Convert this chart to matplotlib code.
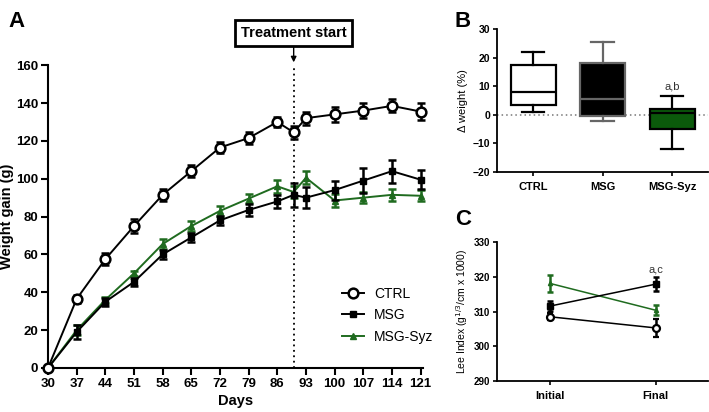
import matplotlib
matplotlib.use("Agg")
import matplotlib.pyplot as plt
from matplotlib.lines import Line2D

plt.rcParams['font.family'] = ['Liberation Sans', 'DejaVu Sans']

GREEN = '#1f6b1f'

# ---- panel A data ----
days = [30, 37, 44, 51, 58, 65, 72, 79, 86, 90, 93, 100, 107, 114, 121]
ctrl = [0, 36.5, 57.5, 75, 91.5, 104, 116.5, 121.5, 130, 124.5, 132, 134, 136, 138.5, 135.5]
ctrl_err = [0, 2, 3, 3.5, 3, 3, 3, 3, 2.5, 3.5, 3.5, 4, 4, 3.5, 4.5]
msg = [0, 19, 35, 45.5, 60, 69, 78, 83.5, 88, 91.5, 90, 94, 99, 104, 99.5]
msg_err = [0, 3.5, 2, 2, 2.5, 2.5, 2.5, 3, 3.5, 6.5, 5.5, 5, 6.5, 6, 5]
syz = [0, 20, 36, 50, 65.5, 75, 83, 89.5, 96, 93, 100.5, 88.5, 90, 91.5, 91]
syz_err = [0, 2.5, 1.5, 1.5, 2.5, 2.5, 2.5, 2.5, 3.5, 3, 3.5, 3.5, 3, 3, 3]
day_ticks = [30, 37, 44, 51, 58, 65, 72, 79, 86, 93, 100, 107, 114, 121]
treat_day = 90

# ---- panel B data (box stats) ----
groups = ['CTRL', 'MSG', 'MSG-Syz']
whislo = [1, -2, -12]
q1 = [3.5, -0.5, -5]
med = [8, 5.5, 0.5]
q3 = [17.5, 18, 2]
whishi = [22, 25.5, 6.5]

# ---- panel C data ----
times = ['Initial', 'Final']
lee_ctrl = [308.5, 305.3]
lee_ctrl_err = [1.0, 2.5]
lee_msg = [311.6, 317.9]
lee_msg_err = [1.5, 2.0]
lee_syz = [318.1, 310.4]
lee_syz_err = [2.5, 1.5]

fig = plt.figure(figsize=(7.09, 4.12), dpi=100)

# ================= A =================
axA = fig.add_axes([0.0677, 0.1068, 0.529, 0.735])
ekw = dict(capsize=3, capthick=1.8, elinewidth=1.8, lw=1.4, clip_on=False)
axA.errorbar(days, syz, yerr=syz_err, color=GREEN, marker='^', ms=5, zorder=3, **ekw)
axA.errorbar(days, msg, yerr=msg_err, color='black', marker='s', ms=5, zorder=4, **ekw)
axA.errorbar(days, ctrl, yerr=ctrl_err, color='black', marker='o', ms=7,
             mfc='white', mew=1.8, zorder=5, **ekw)
axA.axvline(treat_day, color='black', ls=(0, (1, 2)), lw=1.3)
axA.set_xlim(30, 121.6)
axA.set_ylim(0, 160)
axA.set_xticks(day_ticks)
axA.set_yticks(range(0, 161, 20))
axA.set_xlabel('Days', fontsize=10.5, fontweight='bold', labelpad=3)
axA.set_ylabel('Weight gain (g)', fontsize=10.5, fontweight='bold')
axA.yaxis.set_label_coords(-0.09, 0.5)
for s in ['top', 'right']:
    axA.spines[s].set_visible(False)
for s in ['left', 'bottom']:
    axA.spines[s].set_linewidth(1.5)
axA.tick_params(width=1.5, length=5, labelsize=9.5, pad=2)
for lab in axA.get_xticklabels() + axA.get_yticklabels():
    lab.set_fontweight('bold')
handles = [
    Line2D([], [], color='black', marker='o', ms=7, mfc='white', mew=1.8, lw=1.4),
    Line2D([], [], color='black', marker='s', ms=5, lw=1.4),
    Line2D([], [], color=GREEN, marker='^', ms=5, lw=1.4),
]
fig.legend(handles, groups, loc='center left', bbox_to_anchor=(0.465, 0.235),
           frameon=False, fontsize=10, handlelength=1.6, labelspacing=0.55,
           handletextpad=0.7)
axA.annotate('Treatment start', xy=(treat_day, 161.5), xycoords='data',
             xytext=(treat_day, 177), textcoords='data', ha='center', va='center',
             fontsize=10.5, fontweight='bold', annotation_clip=False,
             bbox=dict(boxstyle='square,pad=0.4', fc='white', ec='black', lw=2),
             arrowprops=dict(arrowstyle='-|>', color='black', lw=1, mutation_scale=8,
                             shrinkA=0, shrinkB=0))
fig.text(0.012, 0.935, 'A', fontsize=16, fontweight='bold')

# ================= B =================
axB = fig.add_axes([0.701, 0.5825, 0.298, 0.347])
stats = []
for i, g in enumerate(groups):
    stats.append(dict(label=g, whislo=whislo[i], q1=q1[i], med=med[i],
                      q3=q3[i], whishi=whishi[i], fliers=[]))
axB.axhline(0, color='#777777', ls=(0, (1, 2)), lw=1.1, zorder=0)
bp = axB.bxp(stats, positions=[1, 2, 3], widths=0.65, patch_artist=True,
             showfliers=False)
fills = ['white', 'black', '#0b5a0b']
edges = ['black', '#666666', 'black']
for i in range(3):
    bp['boxes'][i].set(facecolor=fills[i], edgecolor=edges[i], linewidth=1.6)
    bp['medians'][i].set(color=edges[i], linewidth=1.6)
    for j in (2 * i, 2 * i + 1):
        bp['whiskers'][j].set(color=edges[i], linewidth=1.6)
        bp['caps'][j].set(color=edges[i], linewidth=1.6)
axB.text(3, whishi[2] + 1.5, 'a,b', ha='center', va='bottom', fontsize=8,
         color='#333333')
axB.set_xlim(0.48, 3.52)
axB.set_ylim(-20, 30)
axB.set_yticks(range(-20, 31, 10))
axB.set_ylabel('Δ weight (%)', fontsize=8, labelpad=3)
for s in ['top', 'right']:
    axB.spines[s].set_visible(False)
for s in ['left', 'bottom']:
    axB.spines[s].set_linewidth(1.3)
axB.tick_params(width=1.2, length=3, labelsize=7.5, pad=2)
for lab in axB.get_xticklabels() + axB.get_yticklabels():
    lab.set_fontweight('bold')
axB.tick_params(axis='x', labelsize=8, pad=4)
fig.text(0.641, 0.935, 'B', fontsize=16, fontweight='bold')

# ================= C =================
axC = fig.add_axes([0.701, 0.0752, 0.298, 0.337])
xc = [0, 1]
ckw = dict(capsize=2.5, capthick=1.8, elinewidth=1.8, lw=1.1, clip_on=False)
axC.errorbar(xc, lee_syz, yerr=lee_syz_err, color=GREEN, marker='^', ms=3, zorder=3, **ckw)
axC.errorbar(xc, lee_msg, yerr=lee_msg_err, color='black', marker='s', ms=4, zorder=4, **ckw)
axC.errorbar(xc, lee_ctrl, yerr=lee_ctrl_err, color='black', marker='o', ms=5,
             mfc='white', mew=1.6, zorder=5, **ckw)
axC.text(1, lee_msg[1] + lee_msg_err[1] + 0.8, 'a,c', ha='center', va='bottom',
         fontsize=8, color='#333333')
axC.set_xlim(-0.505, 1.5)
axC.set_ylim(290, 330)
axC.set_yticks(range(290, 331, 10))
axC.set_xticks(xc)
axC.set_xticklabels(times)
axC.set_ylabel('Lee Index (g$^{1/3}$/cm x 1000)', fontsize=7.5, labelpad=3)
for s in ['top', 'right']:
    axC.spines[s].set_visible(False)
for s in ['left', 'bottom']:
    axC.spines[s].set_linewidth(1.3)
axC.tick_params(width=1.2, length=3, labelsize=7, pad=2)
axC.tick_params(axis='x', labelsize=8, pad=4)
for lab in axC.get_xticklabels() + axC.get_yticklabels():
    lab.set_fontweight('bold')
fig.text(0.642, 0.455, 'C', fontsize=16, fontweight='bold')

fig.savefig('out.png', dpi=100)
